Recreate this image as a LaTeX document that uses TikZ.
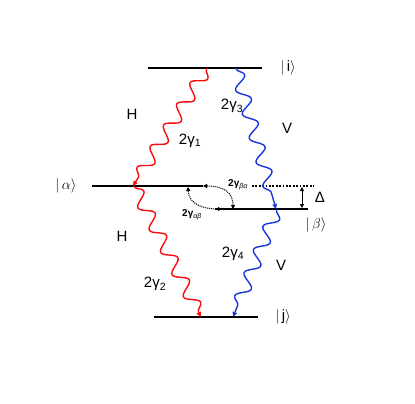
\documentclass[tikz,border=0pt]{standalone}
\usepackage{fontspec}
\setmainfont{Liberation Sans}
\usetikzlibrary{decorations.pathmorphing,arrows.meta}
\definecolor{wred}{RGB}{250,10,10}
\definecolor{wblue}{RGB}{25,55,215}
\newcommand\gam[1]{2γ\textsubscript{#1}}
\begin{document}
\begin{tikzpicture}[x=1pt,y=-1pt,
  level/.style={line width=1.7pt},
  wave/.style={line width=1.4pt, decorate,
    decoration={snake, segment length=25pt, amplitude=6.5pt, pre length=1pt, post length=5pt}},
  wtip/.style={-{Triangle[length=5pt,width=4.5pt]}},
  lbl/.style={font=\fontsize{15}{17}\selectfont, inner sep=0pt},
  slbl/.style={font=\fontsize{10}{12}\selectfont\bfseries, inner sep=0pt},
  dots/.style={line width=1.1pt, dash pattern=on 1pt off 1pt},
  dtip/.style={{Triangle[length=4pt,width=4pt]}-{Triangle[length=4pt,width=4pt]}}]
\useasboundingbox (0,0) rectangle (415,404);
% levels
\coordinate (iL) at (148,68);  \coordinate (iR) at (262,68);
\coordinate (aL) at (92,186);  \coordinate (aR) at (203,186);
\coordinate (dL) at (252,186); \coordinate (dR) at (314,186);
\coordinate (bL) at (215,209); \coordinate (bR) at (308,209);
\coordinate (jL) at (154,317); \coordinate (jR) at (258,317);
\draw[level] (iL) -- (iR);
\draw[level] (aL) -- (aR);
\draw[line width=1.7pt, dash pattern=on 1.7pt off 1.7pt] (dL) -- (dR);
\draw[level] (bL) -- (bR);
\draw[level] (jL) -- (jR);
% wave end points
\coordinate (r1s) at (207,68);  \coordinate (r1e) at (133,186);
\coordinate (r2s) at (134,186); \coordinate (r2e) at (201,317);
\coordinate (b1s) at (236,68);  \coordinate (b1e) at (276,209);
\coordinate (b2s) at (277,209); \coordinate (b2e) at (233,317);
\draw[wave, wred, wtip] (r1s) -- (r1e);
\draw[wave, wred, wtip] (r2s) -- (r2e);
\draw[wave, wblue, wtip] (b1s) -- (b1e);
\draw[wave, wblue, wtip] (b2s) -- (b2e);
% dotted relaxation arrows
\coordinate (ca1) at (203,186); \coordinate (ca2) at (233,209);
\coordinate (cb1) at (188,187); \coordinate (cb2) at (222,209);
\draw[dots, dtip] (ca1) .. controls (226,186) and (233,194) .. (ca2);
\draw[dots, dtip] (cb1) .. controls (189,204) and (202,209) .. (cb2);
% Delta
\coordinate (d1) at (302,187); \coordinate (d2) at (302,208);
\draw[line width=0.9pt, dtip] (d1) -- (d2);
% labels
\node[lbl] (li) at (288,68) {$|$\,i$\rangle$};
\node[lbl] (la) at (66,186) {$|\,\alpha\rangle$};
\node[lbl] (lb) at (316,225) {$|\,\beta\rangle$};
\node[lbl] (lj) at (283,317) {$|$\,j$\rangle$};
\node[lbl] (lD) at (320,197) {Δ};
\node[lbl] (h1) at (132,114) {H};
\node[lbl] (v1) at (287,128) {V};
\node[lbl] (h2) at (122,236) {H};
\node[lbl] (v2) at (281,265) {V};
\node[lbl] (g1) at (190,141) {\gam{1}};
\node[lbl] (g3) at (232,106) {\gam{3}};
\node[lbl] (g2) at (155,284) {\gam{2}};
\node[lbl] (g4) at (233,254) {\gam{4}};
\node[slbl] (gba) at (238,185) {2γ\textsubscript{\mdseries\itshape βα}};
\node[slbl] (gab) at (192,215) {2γ\textsubscript{\mdseries\itshape αβ}};
\end{tikzpicture}
\end{document}
